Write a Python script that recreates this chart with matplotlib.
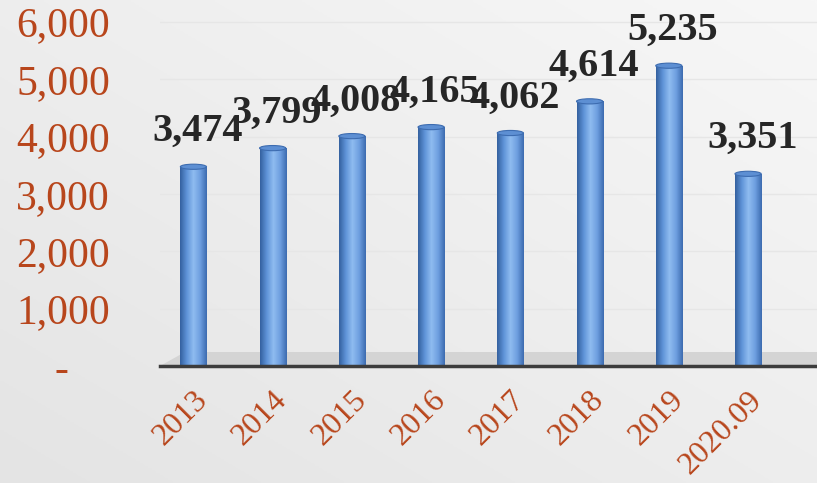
import numpy as np
import matplotlib.pyplot as plt
from matplotlib.colors import LinearSegmentedColormap
from matplotlib.patches import Ellipse, Polygon

# data
years = ['2013', '2014', '2015', '2016', '2017', '2018', '2019', '2020.09']
values = [3474, 3799, 4008, 4165, 4062, 4614, 5235, 3351]
yticks = [0, 1000, 2000, 3000, 4000, 5000, 6000]
ytick_labels = ['-    ', '1,000', '2,000', '3,000', '4,000', '5,000', '6,000']

orange = '#b8461c'
serif = ['Liberation Serif', 'DejaVu Serif']

fig = plt.figure(figsize=(8.17, 4.83), dpi=100)
fig.patch.set_facecolor('#ececec')

# soft background gradient, lighter to the upper right
bg = fig.add_axes([0, 0, 1, 1], zorder=-10)
gx, gy = np.meshgrid(np.linspace(0, 1, 200), np.linspace(0, 1, 200))
bg.imshow(0.5 * gx + 0.5 * gy, cmap=LinearSegmentedColormap.from_list('bg', ['#e4e4e4', '#f7f7f7']),
          origin='lower', extent=[0, 1, 0, 1], aspect='auto')
bg.axis('off')

ax = fig.add_axes([0.196, 0.242, 0.804, 0.758])
ax.set_facecolor('none')
x = np.arange(len(years))
width = 0.33

# faint gridlines
for t in yticks[1:]:
    ax.axhline(t, color='#e6e6e6', lw=1, zorder=0)

# grey floor just above the axis
floor = Polygon([(-0.42, 0), (7.87, 0), (7.87, 240), (-0.1, 240)], closed=True,
                facecolor='#d4d4d4', edgecolor='none', zorder=1)
ax.add_patch(floor)

# cylinder look: horizontal gradient clipped to each bar, plus a top cap
cyl = LinearSegmentedColormap.from_list('cyl', ['#34619f', '#5f93d8', '#8fbcf0', '#6e9fe0', '#3d6cb0'])
grad = np.linspace(0, 1, 100).reshape(1, -1)
bars = ax.bar(x, values, width=width, color='none', edgecolor='none', zorder=3)
cap_h = 90
for b, v in zip(bars, values):
    x0 = b.get_x()
    im = ax.imshow(grad, cmap=cyl, extent=[x0, x0 + width, 0, v], aspect='auto', zorder=3)
    im.set_clip_path(b)
    ax.add_patch(Ellipse((x0 + width / 2, v), width, cap_h, facecolor='#5d8fd3',
                         edgecolor='#3d6cb0', lw=0.8, zorder=4))
    ax.annotate(f'{v:,}', (x0 + width / 2, v), xytext=(3, 12), textcoords='offset points',
                ha='center', va='bottom', fontsize=29, fontweight='bold',
                family=serif, color='#262626', zorder=5)

ax.set_xlim(-0.42, 7.87)
ax.set_ylim(0, 6380)

for s in ['top', 'right', 'left']:
    ax.spines[s].set_visible(False)
ax.spines['bottom'].set_color('#3c3c3c')
ax.spines['bottom'].set_linewidth(2.5)
ax.spines['bottom'].set_zorder(6)

ax.set_yticks(yticks)
ax.set_yticklabels(ytick_labels, fontsize=30, family=serif, color=orange)
ax.tick_params(axis='y', length=0, pad=36)
ax.set_xticks(x)
ax.set_xticklabels(years, fontsize=23, family=serif, color=orange,
                   rotation=45, ha='right', va='top', rotation_mode='anchor')
ax.tick_params(axis='x', length=0, pad=14)

fig.savefig('out.png', dpi=100, facecolor=fig.get_facecolor())
